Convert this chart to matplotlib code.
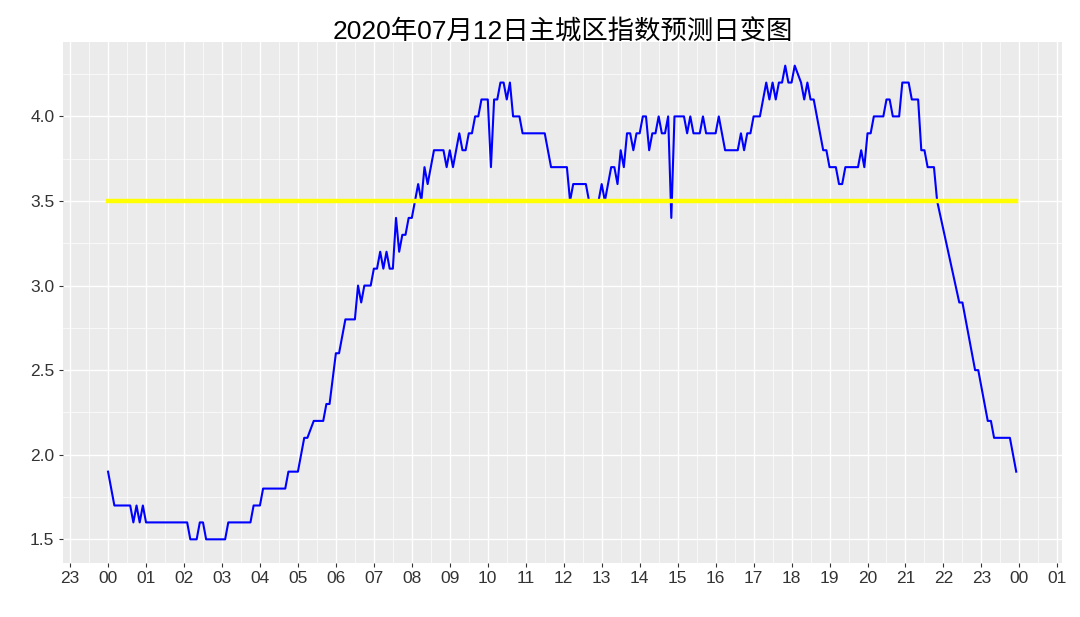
import matplotlib
matplotlib.use('Agg')
import matplotlib.pyplot as plt
from matplotlib.ticker import FixedLocator, MultipleLocator

plt.rcParams['font.family'] = ['Liberation Sans', 'Noto Sans CJK SC', 'DejaVu Sans']

title = '2020年07月12日主城区指数预测日变图'

# vertices of the forecast line (HH:MM, index value), 5-minute data
times = ['00:00', '00:10', '00:35', '00:40', '00:45', '00:50', '00:55', '01:00',
         '02:05', '02:10', '02:20', '02:25', '02:30', '02:35', '03:05', '03:10',
         '03:45', '03:50', '04:00', '04:05', '04:40', '04:45', '05:00', '05:10',
         '05:15', '05:25', '05:40', '05:45', '05:50', '06:00', '06:05', '06:15',
         '06:30', '06:35', '06:40', '06:45', '06:55', '07:00', '07:05', '07:10',
         '07:15', '07:20', '07:25', '07:30', '07:35', '07:40', '07:45', '07:50',
         '07:55', '08:00', '08:05', '08:10', '08:15', '08:20', '08:25', '08:35',
         '08:50', '08:55', '09:00', '09:05', '09:15', '09:20', '09:25', '09:30',
         '09:35', '09:40', '09:45', '09:50', '10:00', '10:05', '10:10', '10:15',
         '10:20', '10:25', '10:30', '10:35', '10:40', '10:50', '10:55', '11:30',
         '11:40', '12:05', '12:10', '12:15', '12:35', '12:40', '12:55', '13:00',
         '13:05', '13:15', '13:20', '13:25', '13:30', '13:35', '13:40', '13:45',
         '13:50', '13:55', '14:00', '14:05', '14:10', '14:15', '14:20', '14:25',
         '14:30', '14:35', '14:40', '14:45', '14:50', '14:55', '15:10', '15:15',
         '15:20', '15:25', '15:35', '15:40', '15:45', '16:00', '16:05', '16:15',
         '16:35', '16:40', '16:45', '16:50', '16:55', '17:00', '17:10', '17:20',
         '17:25', '17:30', '17:35', '17:40', '17:45', '17:50', '17:55', '18:00',
         '18:05', '18:15', '18:20', '18:25', '18:30', '18:35', '18:50', '18:55',
         '19:00', '19:10', '19:15', '19:20', '19:25', '19:45', '19:50', '19:55',
         '20:00', '20:05', '20:10', '20:25', '20:30', '20:35', '20:40', '20:50',
         '20:55', '21:05', '21:10', '21:20', '21:25', '21:30', '21:35', '21:45',
         '21:50', '22:25', '22:30', '22:50', '22:55', '23:10', '23:15', '23:20',
         '23:45', '23:55']
values = [1.9, 1.7, 1.7, 1.6, 1.7, 1.6, 1.7, 1.6,
          1.6, 1.5, 1.5, 1.6, 1.6, 1.5, 1.5, 1.6,
          1.6, 1.7, 1.7, 1.8, 1.8, 1.9, 1.9, 2.1,
          2.1, 2.2, 2.2, 2.3, 2.3, 2.6, 2.6, 2.8,
          2.8, 3.0, 2.9, 3.0, 3.0, 3.1, 3.1, 3.2,
          3.1, 3.2, 3.1, 3.1, 3.4, 3.2, 3.3, 3.3,
          3.4, 3.4, 3.5, 3.6, 3.5, 3.7, 3.6, 3.8,
          3.8, 3.7, 3.8, 3.7, 3.9, 3.8, 3.8, 3.9,
          3.9, 4.0, 4.0, 4.1, 4.1, 3.7, 4.1, 4.1,
          4.2, 4.2, 4.1, 4.2, 4.0, 4.0, 3.9, 3.9,
          3.7, 3.7, 3.5, 3.6, 3.6, 3.5, 3.5, 3.6,
          3.5, 3.7, 3.7, 3.6, 3.8, 3.7, 3.9, 3.9,
          3.8, 3.9, 3.9, 4.0, 4.0, 3.8, 3.9, 3.9,
          4.0, 3.9, 3.9, 4.0, 3.4, 4.0, 4.0, 3.9,
          4.0, 3.9, 3.9, 4.0, 3.9, 3.9, 4.0, 3.8,
          3.8, 3.9, 3.8, 3.9, 3.9, 4.0, 4.0, 4.2,
          4.1, 4.2, 4.1, 4.2, 4.2, 4.3, 4.2, 4.2,
          4.3, 4.2, 4.1, 4.2, 4.1, 4.1, 3.8, 3.8,
          3.7, 3.7, 3.6, 3.6, 3.7, 3.7, 3.8, 3.7,
          3.9, 3.9, 4.0, 4.0, 4.1, 4.1, 4.0, 4.0,
          4.2, 4.2, 4.1, 4.1, 3.8, 3.8, 3.7, 3.7,
          3.5, 2.9, 2.9, 2.5, 2.5, 2.2, 2.2, 2.1,
          2.1, 1.9]

threshold = 3.5
hour_ticks = list(range(-1, 26))
hour_labels = ['%02d' % (h % 24) for h in hour_ticks]
y_ticks = [1.5, 2.0, 2.5, 3.0, 3.5, 4.0]
y_labels = ['1.5', '2.0', '2.5', '3.0', '3.5', '4.0']

hours = [int(t[:2]) + int(t[3:]) / 60.0 for t in times]

fig = plt.figure(figsize=(10.8, 6.17), dpi=100)
ax = fig.add_axes([0.058, 0.0875, 0.925, 0.8445])
ax.set_facecolor('#EBEBEB')
for s in ax.spines.values():
    s.set_visible(False)

ax.plot(hours, values, color='#0000FF', lw=1.5, zorder=3)
ax.plot([hours[0], hours[-1]], [threshold, threshold], color='#FFFF00', lw=3.2, zorder=4)

# ggplot-like 5% expansion of the data range
span = hours[-1] - hours[0]
ax.set_xlim(hours[0] - 0.05 * span, hours[-1] + 0.05 * span)
vspan = max(values) - min(values)
ax.set_ylim(min(values) - 0.05 * vspan, max(values) + 0.05 * vspan)

ax.xaxis.set_major_locator(FixedLocator(hour_ticks))
ax.set_xticklabels(hour_labels)
ax.xaxis.set_minor_locator(MultipleLocator(0.5))
ax.set_yticks(y_ticks)
ax.set_yticklabels(y_labels)
ax.yaxis.set_minor_locator(MultipleLocator(0.25))

ax.grid(which='major', color='white', lw=1.0)
ax.grid(which='minor', color='white', lw=0.5)
ax.set_axisbelow(True)
ax.tick_params(which='major', length=3, width=0.8, color='#333333',
               labelsize=12.5, labelcolor='#333333', pad=3)
ax.tick_params(which='minor', length=0)

fig.text(0.521, 0.948, title, ha='center', va='center', fontsize=19, color='black')

fig.savefig('out.png', dpi=100)
